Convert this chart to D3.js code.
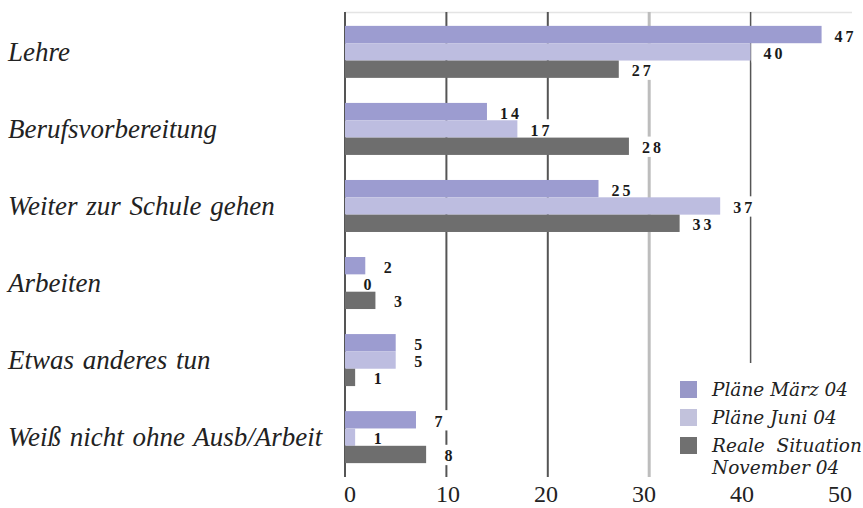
<!DOCTYPE html>
<html>
<head>
<meta charset="utf-8">
<script src="https://cdn.jsdelivr.net/npm/d3@7/dist/d3.min.js"></script>
<style>
  html, body { margin: 0; padding: 0; background: #fff; }
  svg { display: block; }
</style>
</head>
<body>
<svg id="chart" width="863" height="508"></svg>
<script>
// Plans and actual situation of school leavers (percent)
const categories = [
  "Lehre",
  "Berufsvorbereitung",
  "Weiter zur Schule gehen",
  "Arbeiten",
  "Etwas anderes tun",
  "Weiß nicht ohne Ausb/Arbeit"
];
const seriesKeys = ["maerz", "juni", "real"];
const seriesLabels = [["Pläne März 04"], ["Pläne Juni 04"], ["Reale  Situation", "November 04"]];
const maerz = [47, 14, 25, 2, 5, 7];
const juni  = [40, 17, 37, 0, 5, 1];
const real  = [27, 28, 33, 3, 1, 8];
const tickValues = [0, 10, 20, 30, 40, 50];

const colors = { maerz: "#9c9cd0", juni: "#bdbde0", real: "#6e6e6e" };
const legendColors = { maerz: "#9898c8", juni: "#c2c2dc", real: "#707070" };

const rows = categories.map((c, i) => ({
  category: c,
  values: seriesKeys.map(k => ({ key: k, value: { maerz, juni, real }[k][i] }))
}));

const svg = d3.select("#chart");

const x = d3.scaleLinear().domain([0, 50]).range([345, 852]);
const xLabel = d3.scaleLinear().domain([0, 50]).range([350, 840]);
const y = d3.scaleBand().domain(categories).range([12, 477]).paddingInner(0.325).paddingOuter(0.18);
const ySeries = d3.scaleBand().domain(seriesKeys).range([0, y.bandwidth()]).padding(0);

const legendX = 680, legendTop = 396;

// faint frame line along the top
svg.append("line")
  .attr("x1", x(0)).attr("x2", x(50))
  .attr("y1", 12.5).attr("y2", 12.5)
  .attr("stroke", "#e4e4e4").attr("stroke-width", 1.5);

// vertical gridlines
svg.append("g").selectAll("line")
  .data(tickValues.filter(t => t > 0 && t < 50))
  .join("line")
  .attr("x1", d => x(d)).attr("x2", d => x(d))
  .attr("y1", 12)
  .attr("y2", d => x(d) > legendX - 10 ? legendTop - 33 : 477)
  .attr("stroke", d => d === 30 ? "#bdbdbd" : "#555")
  .attr("stroke-width", d => d === 30 ? 3 : (d === 40 ? 1.5 : 2));

// left axis line
svg.append("line")
  .attr("x1", x(0)).attr("x2", x(0))
  .attr("y1", 12).attr("y2", 477)
  .attr("stroke", "#555").attr("stroke-width", 2);

const groups = svg.append("g").selectAll("g")
  .data(rows)
  .join("g")
  .attr("transform", d => `translate(0,${y(d.category)})`);

// white label plates behind the values
groups.selectAll("rect.plate")
  .data(d => d.values)
  .join("rect")
  .attr("class", "plate")
  .attr("x", d => x(d.value) + 1)
  .attr("y", d => ySeries(d.key) - 1)
  .attr("width", 44)
  .attr("height", ySeries.bandwidth() + 3)
  .attr("fill", "#fff");

// bars
groups.selectAll("rect.bar")
  .data(d => d.values)
  .join("rect")
  .attr("class", "bar")
  .attr("x", x(0))
  .attr("y", d => ySeries(d.key))
  .attr("width", d => x(d.value) - x(0))
  .attr("height", ySeries.bandwidth())
  .attr("fill", d => colors[d.key]);

// value labels
groups.selectAll("text.val")
  .data(d => d.values)
  .join("text")
  .attr("class", "val")
  .attr("x", d => x(d.value) + 24)
  .attr("y", d => ySeries(d.key) + ySeries.bandwidth() / 2 + 7)
  .attr("text-anchor", "middle")
  .attr("font-family", "'Liberation Serif', serif")
  .attr("font-weight", "bold")
  .attr("font-size", 16)
  .attr("letter-spacing", 3)
  .attr("fill", "#1a1a1a")
  .text(d => d.value);

// category labels
svg.append("g").selectAll("text")
  .data(categories)
  .join("text")
  .attr("x", 8)
  .attr("y", d => y(d) + y.bandwidth() / 2 + 9)
  .attr("font-family", "'Liberation Serif', serif")
  .attr("font-style", "italic")
  .attr("font-size", 27)
  .attr("word-spacing", 2)
  .attr("fill", "#222")
  .text(d => d);

// x axis tick labels
svg.append("g").selectAll("text")
  .data(tickValues)
  .join("text")
  .attr("x", d => xLabel(d))
  .attr("y", 502)
  .attr("text-anchor", "middle")
  .attr("font-family", "'Liberation Serif', serif")
  .attr("font-size", 24)
  .attr("fill", "#222")
  .text(d => d);

// legend
const legend = svg.append("g");
let ly = legendTop;
seriesKeys.forEach((k, i) => {
  legend.append("rect")
    .attr("x", legendX).attr("y", ly - 15)
    .attr("width", 17).attr("height", 17)
    .attr("fill", legendColors[k]);
  const t = legend.append("text")
    .attr("x", legendX + 32).attr("y", ly)
    .attr("font-family", "'DejaVu Serif', serif")
    .attr("font-style", "italic")
    .attr("font-size", 18.5)
    .attr("fill", "#222")
    .attr("xml:space", "preserve");
  seriesLabels[i].forEach((line, j) => {
    t.append("tspan")
      .attr("x", legendX + 32)
      .attr("dy", j === 0 ? 0 : 22)
      .text(line);
  });
  ly += 28 + (seriesLabels[i].length - 1) * 22;
});
</script>
</body>
</html>
